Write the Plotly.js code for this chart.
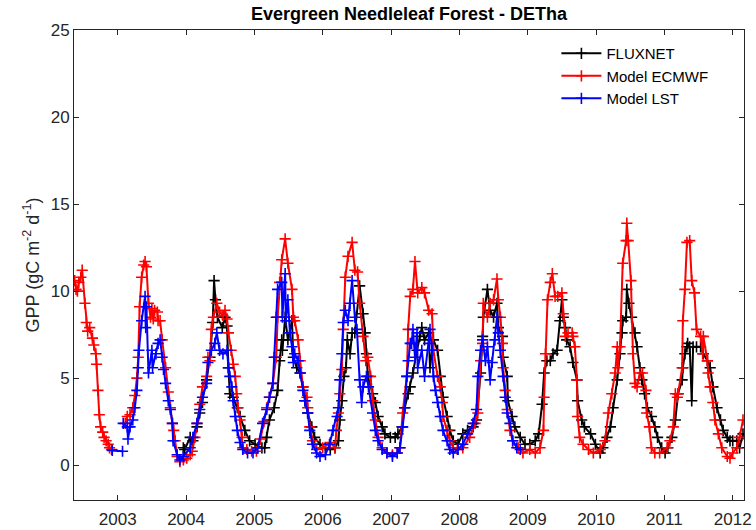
<!DOCTYPE html>
<html>
<head>
<meta charset="utf-8">
<script src="https://cdn.plot.ly/plotly-3.0.1.min.js"></script>
<style>
  html, body { margin: 0; padding: 0; background: #ffffff; }
  #chart { width: 756px; height: 530px; }
</style>
</head>
<body>
<div id="chart"></div>
<script>
// Site DETha (Tharandt), evergreen needleleaf forest: 8-day GPP, gC m-2 d-1.
// Time is given in decimal years; null breaks a line where a record has a gap.

const yearTicks = [2003, 2004, 2005, 2006, 2007, 2008, 2009, 2010, 2011, 2012];

// FLUXNET tower estimate
const fluxnetYear = [
  2003.96,2003.98,2004.06,2004.10,2004.16,2004.20,2004.24,2004.30,2004.35,2004.39,2004.41,2004.43,2004.46,2004.53,2004.57,2004.60,2004.62,2004.64,2004.69,2004.75,2004.79,2004.86,2004.93,2005.01,
  2005.11,2005.15,2005.18,2005.22,2005.29,2005.34,2005.37,2005.40,2005.41,2005.45,2005.49,2005.55,2005.57,2005.62,2005.67,2005.71,2005.74,2005.78,2005.84,2005.88,2005.96,
  2006.04,2006.11,2006.18,2006.23,2006.25,2006.28,2006.31,2006.34,2006.36,2006.40,2006.43,2006.47,2006.54,2006.59,2006.62,2006.64,2006.66,2006.73,2006.77,2006.81,2006.87,2006.91,2006.99,
  2007.06,2007.10,2007.16,2007.20,2007.25,2007.28,2007.32,2007.38,2007.42,2007.45,2007.49,2007.55,2007.57,2007.62,2007.68,2007.72,2007.76,2007.82,2007.86,2007.91,2007.98,2008.05,
  2008.12,2008.20,2008.25,2008.31,2008.34,2008.35,2008.41,2008.45,2008.50,2008.55,2008.57,2008.63,2008.64,2008.70,2008.71,2008.77,2008.81,2008.89,2008.96,2009.03,
  2009.11,2009.16,2009.21,2009.24,2009.28,2009.33,2009.37,2009.43,2009.47,2009.50,2009.52,2009.55,2009.57,2009.62,2009.66,2009.72,2009.73,2009.79,2009.83,2009.92,2009.99,2010.06,
  2010.10,2010.16,2010.21,2010.25,2010.31,2010.35,2010.38,2010.39,2010.44,2010.45,2010.48,2010.52,2010.57,2010.60,2010.64,2010.67,2010.71,2010.75,2010.81,2010.86,2010.90,2010.96,2011.01,2011.05,
  2011.11,2011.16,2011.20,2011.26,2011.27,2011.30,2011.33,2011.34,2011.37,2011.40,2011.42,2011.47,2011.53,2011.57,2011.63,2011.67,2011.71,2011.77,2011.82,2011.86,2011.92,2011.96,2012.00,2012.06,2012.10,2012.15
];
const fluxnetGpp = [
  1.0,0.9,1.6,1.4,2.2,3.0,3.6,4.9,6.2,8.2,10.6,9.5,8.5,7.9,8.5,8.0,5.6,4.1,3.9,3.3,2.8,2.0,1.4,1.2,
  1.0,1.0,1.6,2.6,3.3,4.3,6.0,7.2,6.6,8.5,7.2,8.3,6.2,5.6,5.3,4.5,3.7,3.0,2.2,1.6,1.2,
  1.0,0.9,1.0,1.4,2.6,3.7,5.1,5.6,7.2,6.4,7.6,7.6,10.3,8.7,7.6,6.4,5.1,4.1,3.6,2.8,2.2,1.8,1.6,
  1.6,1.8,2.2,3.3,4.1,4.5,5.3,6.6,7.4,7.9,7.2,7.6,5.6,7.2,6.6,5.1,3.9,2.8,2.0,1.4,1.2,1.8,
  2.0,2.2,2.6,5.3,7.4,8.5,10.1,8.9,8.5,9.3,7.9,7.4,6.2,5.1,3.7,2.8,2.2,1.6,1.2,1.2,
  1.4,1.8,3.5,5.3,6.0,6.0,6.4,6.6,8.3,9.5,8.5,7.9,7.2,6.8,5.9,4.9,3.7,2.6,2.2,1.8,1.2,0.7,
  1.0,1.6,2.2,3.3,4.9,6.4,7.6,8.3,8.5,10.1,9.3,8.5,7.6,6.8,5.6,4.9,4.1,3.3,2.8,2.2,1.6,1.0,0.7,1.0,
  1.6,2.6,4.1,4.9,5.6,6.4,6.8,7.0,6.8,3.7,6.8,6.8,6.8,6.4,6.0,5.6,4.5,3.3,2.6,2.0,1.6,1.4,1.4,1.4,1.0,1.8
];

// Model driven by ECMWF meteorology
const ecmwfYear = [
  2002.37,2002.39,2002.41,2002.43,2002.46,2002.48,2002.52,2002.54,2002.56,2002.59,2002.63,2002.65,2002.68,2002.69,2002.71,2002.73,2002.75,2002.78,2002.80,2002.83,2002.86,2002.88,2002.91,
  null,
  2003.11,2003.14,2003.18,2003.22,2003.25,2003.28,2003.30,2003.32,2003.35,2003.38,2003.40,2003.42,2003.45,2003.48,2003.50,2003.52,2003.54,2003.58,2003.59,2003.62,2003.65,2003.70,2003.74,2003.77,2003.80,2003.82,2003.84,2003.87,2003.91,2003.96,
  2004.01,2004.06,2004.09,2004.13,2004.16,2004.20,2004.24,2004.30,2004.32,2004.35,2004.37,2004.40,2004.45,2004.49,2004.54,2004.57,2004.60,2004.62,2004.66,2004.69,2004.72,2004.74,2004.76,2004.79,2004.82,2004.83,2004.89,2004.96,
  2005.03,2005.09,2005.14,2005.18,2005.22,2005.27,2005.32,2005.34,2005.37,2005.40,2005.45,2005.49,2005.55,2005.57,2005.59,2005.64,2005.67,2005.71,2005.77,2005.78,2005.81,2005.85,2005.91,2006.00,
  2006.11,2006.18,2006.20,2006.23,2006.25,2006.28,2006.30,2006.33,2006.37,2006.43,2006.47,2006.51,2006.54,2006.59,2006.63,2006.66,2006.70,2006.73,2006.77,2006.81,2006.87,2006.94,2007.02,
  2007.09,2007.13,2007.17,2007.23,2007.25,2007.28,2007.32,2007.35,2007.39,2007.45,2007.49,2007.55,2007.60,2007.62,2007.68,2007.72,2007.75,2007.76,2007.82,2007.86,2007.91,2007.97,2008.05,
  2008.15,2008.23,2008.27,2008.31,2008.34,2008.35,2008.41,2008.45,2008.50,2008.55,2008.57,2008.60,2008.63,2008.64,2008.67,2008.70,2008.74,2008.78,2008.86,2008.93,2009.03,
  2009.11,2009.18,2009.23,2009.24,2009.26,2009.29,2009.33,2009.36,2009.40,2009.44,2009.50,2009.52,2009.55,2009.59,2009.65,2009.66,2009.69,2009.72,2009.73,2009.76,2009.81,2009.89,2009.96,2010.06,
  2010.13,2010.18,2010.23,2010.28,2010.31,2010.32,2010.35,2010.39,2010.44,2010.45,2010.47,2010.51,2010.54,2010.57,2010.60,2010.64,2010.68,2010.73,2010.74,2010.78,2010.81,2010.86,2010.93,2011.04,2011.08,
  2011.13,2011.16,2011.19,2011.20,2011.26,2011.27,2011.30,2011.33,2011.37,2011.40,2011.44,2011.47,2011.53,2011.56,2011.57,2011.63,2011.64,2011.67,2011.71,2011.74,2011.79,2011.84,2011.92,2011.96,2012.00,2012.06,2012.10,2012.15
];
const ecmwfGpp = [
  10.6,10.1,10.0,10.5,10.8,11.2,9.3,8.2,7.7,7.9,7.3,6.9,6.4,5.8,4.3,2.9,2.2,1.9,1.6,1.4,1.2,1.0,0.9,
  null,
  2.4,2.8,2.9,3.3,4.0,5.0,6.2,9.1,10.8,11.5,11.7,11.4,9.3,8.5,9.0,8.4,8.9,8.8,8.3,8.3,7.2,5.6,4.2,3.3,2.4,2.0,1.4,0.5,0.2,0.3,
  0.4,0.6,0.8,1.6,2.4,3.5,4.5,5.1,6.2,6.0,7.8,8.5,9.3,8.8,8.6,8.9,8.4,7.6,6.6,5.8,5.1,4.1,3.3,2.6,1.6,1.0,0.9,0.8,
  0.8,1.5,2.5,3.3,3.9,4.7,6.2,8.5,10.5,11.8,13.0,11.6,10.1,8.5,8.3,7.2,6.0,4.5,3.9,3.3,2.2,1.4,0.9,1.0,
  1.3,1.0,2.0,3.0,4.1,5.5,7.8,10.8,12.0,12.8,11.2,11.1,9.3,7.4,6.0,6.2,5.1,3.7,2.6,1.6,1.0,0.7,0.6,
  0.7,1.0,3.0,5.1,7.8,9.7,10.1,11.7,9.9,10.2,9.9,8.9,8.7,6.6,5.1,4.5,3.6,2.8,2.0,1.4,1.0,0.9,1.0,
  1.6,2.4,3.0,6.0,7.0,9.3,8.5,9.3,9.5,10.7,9.5,8.5,7.0,5.6,4.3,3.2,2.0,1.4,1.0,0.7,0.9,
  0.7,1.0,2.0,3.9,6.4,9.5,10.5,11.0,9.7,9.7,9.9,8.7,7.4,7.6,7.6,7.4,6.8,4.9,2.8,1.6,1.2,0.9,0.7,0.9,
  1.4,3.0,4.1,5.3,6.8,5.6,6.8,11.6,12.9,13.9,12.9,10.6,6.4,4.7,4.5,5.3,5.3,4.3,3.0,2.2,1.0,0.7,0.7,1.0,1.4,
  2.2,4.1,3.9,4.1,5.6,8.3,10.1,12.8,12.9,10.6,9.9,7.8,7.4,6.4,7.4,6.0,5.3,4.5,3.6,2.6,1.8,1.0,0.5,0.4,0.7,1.0,1.6,2.6
];

// Model driven by land surface temperature
const lstYear = [
  2002.92,2003.07,
  null,
  2003.08,2003.14,2003.15,2003.18,2003.22,2003.25,2003.28,2003.30,2003.31,2003.35,2003.40,2003.41,2003.42,2003.45,2003.50,2003.51,2003.56,2003.59,2003.62,2003.65,2003.67,2003.70,2003.74,2003.77,2003.80,2003.81,2003.87,2003.91,2003.96,
  2004.06,2004.10,2004.16,2004.20,2004.24,2004.30,2004.32,2004.37,2004.42,2004.45,2004.49,2004.54,2004.60,2004.62,2004.64,2004.67,2004.69,2004.72,2004.75,2004.79,2004.83,2004.90,2004.98,
  2005.05,2005.12,2005.18,2005.22,2005.27,2005.29,2005.32,2005.34,2005.40,2005.41,2005.45,2005.46,2005.49,2005.52,2005.55,2005.57,2005.59,2005.64,2005.67,2005.71,2005.74,2005.78,2005.81,2005.85,2005.91,2005.96,
  2006.04,2006.10,2006.15,2006.21,2006.23,2006.25,2006.28,2006.30,2006.33,2006.37,2006.40,2006.43,2006.47,2006.50,2006.54,2006.57,2006.59,2006.64,2006.67,2006.73,2006.77,2006.81,2006.87,2006.94,2007.02,
  2007.09,2007.13,2007.17,2007.20,2007.23,2007.25,2007.28,2007.30,2007.32,2007.35,2007.38,2007.39,2007.45,2007.49,2007.55,2007.57,2007.60,2007.62,2007.65,2007.68,2007.72,2007.76,2007.82,2007.86,2007.91,2007.98,2008.05,
  2008.12,2008.20,2008.25,2008.27,2008.31,2008.34,2008.38,2008.41,2008.45,2008.48,2008.52,2008.55,2008.57,2008.60,2008.64,2008.67,2008.70,2008.74,2008.78,2008.84,2008.89
];
const lstGpp = [
  0.85,0.8,
  null,
  2.4,2.2,1.5,2.2,2.6,3.3,4.3,5.6,6.6,8.3,9.7,7.9,9.1,5.3,6.6,5.6,6.4,7.0,7.2,6.2,5.5,4.7,3.7,3.2,2.4,1.4,0.6,0.3,0.5,
  1.0,1.6,2.4,3.2,3.9,4.7,5.9,6.6,7.0,7.6,6.6,6.4,6.6,5.6,5.1,4.5,3.7,2.8,2.0,1.3,0.9,0.7,0.7,
  1.0,2.4,3.2,3.9,4.7,6.2,8.5,10.1,10.5,8.5,11.0,8.3,9.5,7.6,6.8,5.9,6.4,6.0,5.3,4.3,3.7,3.0,2.0,1.2,0.7,0.5,
  0.6,1.2,2.0,2.8,3.3,4.9,6.4,8.2,8.9,8.3,9.3,10.6,8.5,7.8,4.9,3.6,4.5,5.1,4.5,3.0,2.0,1.4,0.9,0.7,0.5,
  0.7,1.0,2.2,3.3,5.1,6.0,7.0,7.0,7.8,6.2,7.6,5.6,6.6,5.1,7.0,7.8,6.6,5.1,4.3,3.6,2.8,2.0,1.4,0.9,0.7,0.9,1.2,
  1.8,2.4,3.2,5.1,6.6,7.2,6.0,6.8,4.9,5.9,7.2,8.5,7.6,6.6,5.1,3.9,3.0,2.4,1.4,1.0,0.9
];

const axisColor = '#262626';
const fontFamily = 'Liberation Sans, Arial, Helvetica, sans-serif';

function series(name, x, y, color) {
  return {
    type: 'scatter',
    mode: 'lines+markers',
    name: name,
    x: x,
    y: y,
    connectgaps: false,
    line: { color: color, width: 2 },
    marker: {
      symbol: 'cross-thin',
      size: 8,
      color: color,
      line: { color: color, width: 1.6 }
    }
  };
}

const traces = [
  series('FLUXNET', fluxnetYear, fluxnetGpp, '#000000'),
  series('Model ECMWF', ecmwfYear, ecmwfGpp, '#ff0000'),
  series('Model LST', lstYear, lstGpp, '#0000ff')
];

const axisCommon = {
  showline: true,
  linecolor: axisColor,
  linewidth: 1,
  mirror: 'allticks',
  ticks: 'inside',
  ticklen: 5,
  tickwidth: 1,
  tickcolor: axisColor,
  showgrid: false,
  zeroline: false,
  ticklabeloverflow: 'allow',
  tickfont: { family: fontFamily, size: 17, color: axisColor },
  automargin: false
};

const layout = {
  width: 756,
  height: 530,
  margin: { l: 74, r: 12, t: 30, b: 30 },
  paper_bgcolor: '#ffffff',
  plot_bgcolor: '#ffffff',
  font: { family: fontFamily, color: axisColor },
  title: {
    text: '<b>Evergreen Needleleaf Forest - DETha</b>',
    font: { family: fontFamily, size: 18, color: '#000000' },
    x: 0.5,
    xref: 'paper',
    xanchor: 'center',
    y: 0.974,
    yref: 'container',
    yanchor: 'middle'
  },
  xaxis: Object.assign({}, axisCommon, {
    range: [2002.36, 2012.165],
    tickmode: 'array',
    tickvals: yearTicks,
    ticktext: yearTicks.map(String),
    ticklabelstandoff: 4
  }),
  yaxis: Object.assign({}, axisCommon, {
    range: [-2, 25],
    tickmode: 'linear',
    tick0: 0,
    dtick: 5,
    title: {
      text: 'GPP (gC m<sup>-2</sup> d<sup>-1</sup>)',
      font: { family: fontFamily, size: 18, color: axisColor },
      standoff: 6
    }
  }),
  legend: {
    x: 0.72,
    y: 0.985,
    xanchor: 'left',
    yanchor: 'top',
    bgcolor: 'rgba(255,255,255,0)',
    borderwidth: 0,
    itemwidth: 40,
    font: { family: fontFamily, size: 15, color: '#000000' },
    tracegroupgap: 0
  },
  showlegend: true
};

Plotly.newPlot('chart', traces, layout, { displayModeBar: false, staticPlot: true });
</script>
</body>
</html>
